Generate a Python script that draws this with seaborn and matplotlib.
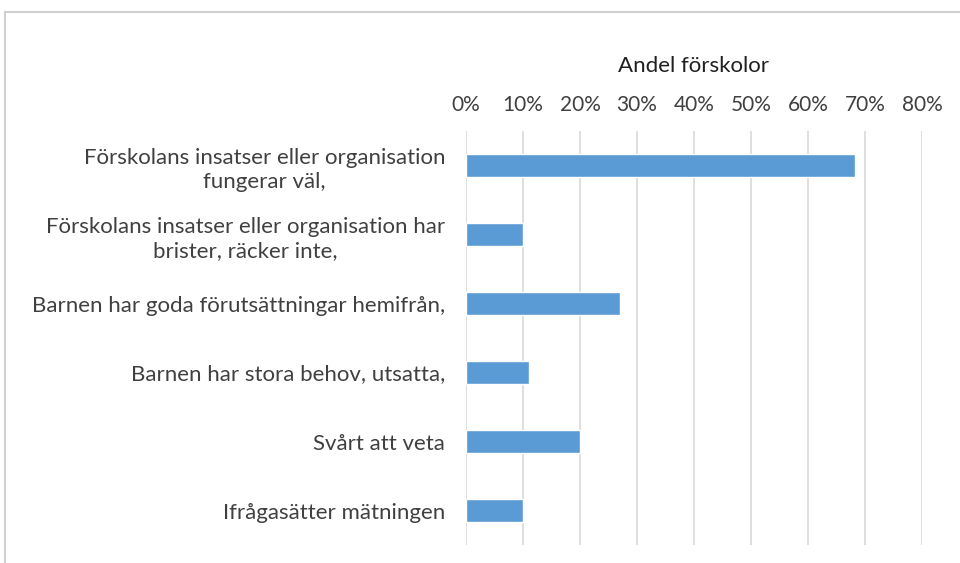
import matplotlib
matplotlib.use("Agg")
import matplotlib.pyplot as plt
import seaborn as sns
import pandas as pd
from matplotlib.patches import Rectangle
from matplotlib.ticker import PercentFormatter

categories = [
    "Förskolans insatser eller organisation\nfungerar väl,",
    "Förskolans insatser eller organisation har\nbrister, räcker inte,",
    "Barnen har goda förutsättningar hemifrån,",
    "Barnen har stora behov, utsatta,",
    "Svårt att veta",
    "Ifrågasätter mätningen",
]
shares = [68.2, 10.0, 27.0, 11.0, 20.0, 10.0]
x_ticks = [0, 10, 20, 30, 40, 50, 60, 70, 80]

df = pd.DataFrame({"kategori": categories, "andel": shares})

sns.set_style("white")
plt.rcParams["font.family"] = ["Lato", "DejaVu Sans"]
text_color = "#404040"

fig = plt.figure(figsize=(9.6, 5.63), dpi=100)
ax = fig.add_axes([0.4854, 0.032, 0.475, 0.735])

sns.barplot(data=df, x="andel", y="kategori", color="#5B9BD5", width=0.34,
            saturation=1, ax=ax, zorder=3)

ax.set_xlim(0, 80)
ax.set_xticks(x_ticks)
ax.xaxis.set_major_formatter(PercentFormatter(decimals=0))
ax.xaxis.tick_top()
ax.xaxis.set_label_position("top")
ax.set_xlabel("Andel förskolor", fontsize=16, color="#202020", labelpad=16)
ax.set_ylabel("")
ax.grid(axis="x", color="#D9D9D9", linewidth=1.2, zorder=0)
ax.tick_params(axis="x", length=0, pad=12, labelsize=15, colors=text_color)
ax.tick_params(axis="y", length=0, pad=15, labelsize=16, colors=text_color)
for lbl in ax.get_yticklabels():
    lbl.set_horizontalalignment("right")
    lbl.set_multialignment("center")
    lbl.set_linespacing(1.25)
for s in ax.spines.values():
    s.set_visible(False)

# outer chart frame
fig.patches.append(Rectangle((5 / 960, -0.05), 1.0, 1 - 12 / 563 + 0.05,
                             transform=fig.transFigure, fill=False,
                             edgecolor="#D0D0D0", linewidth=1.5))

fig.savefig("out.png", dpi=100)
